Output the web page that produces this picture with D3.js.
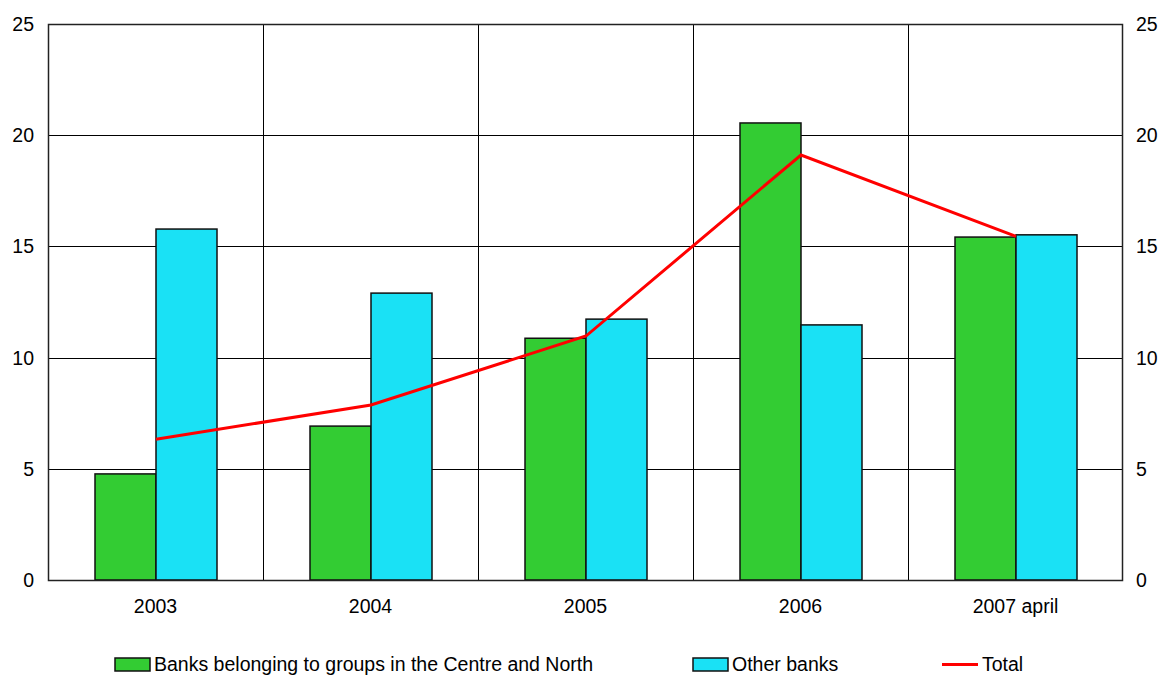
<!DOCTYPE html>
<html><head><meta charset="utf-8">
<script src="https://cdn.jsdelivr.net/npm/d3@7"></script>
<style>body{margin:0;background:#fff}svg{display:block}text{font-family:"Liberation Sans",Arial,sans-serif}</style>
</head><body><svg id="c" width="1164" height="677"></svg>
<script>
const categories = ["2003","2004","2005","2006","2007 april"];
const greenValues = [4.77, 6.92, 10.87, 20.55, 15.42];
const cyanValues = [15.78, 12.9, 11.73, 11.47, 15.52];
const totalValues = [6.33, 7.87, 10.97, 19.11, 15.45];
const yTicks = [0,5,10,15,20,25];
const seriesNames = ["Banks belonging to groups in the Centre and North","Other banks","Total"];

const svg = d3.select("#c");
const L=48, R=1123, T=24, B=580;
const x = d3.scaleBand().domain(categories).range([L,R]).paddingInner(0).paddingOuter(0);
const y = d3.scaleLinear().domain([0,25]).range([B,T]);
const barW = 61;

// grid
svg.append("g").selectAll("line.h").data(yTicks).join("line")
  .attr("x1",L).attr("x2",R).attr("y1",d=>Math.round(y(d))+0.5).attr("y2",d=>Math.round(y(d))+0.5)
  .attr("stroke","#000").attr("stroke-width",1);
svg.append("g").selectAll("line.v").data(categories.slice(1)).join("line")
  .attr("x1",d=>Math.round(x(d))+0.5).attr("x2",d=>Math.round(x(d))+0.5).attr("y1",T).attr("y2",B)
  .attr("stroke","#000").attr("stroke-width",1);

// bars
const cx = d => x(d)+x.bandwidth()/2;
svg.append("g").selectAll("rect").data(categories).join("rect")
  .attr("x",d=>Math.round(cx(d))-barW).attr("width",barW)
  .attr("y",(d,i)=>y(greenValues[i])).attr("height",(d,i)=>B-y(greenValues[i]))
  .attr("fill","#33cc33").attr("stroke","#111").attr("stroke-width",1.5);
svg.append("g").selectAll("rect").data(categories).join("rect")
  .attr("x",d=>Math.round(cx(d))).attr("width",barW)
  .attr("y",(d,i)=>y(cyanValues[i])).attr("height",(d,i)=>B-y(cyanValues[i]))
  .attr("fill","#1ae1f5").attr("stroke","#111").attr("stroke-width",1.5);

// frame
svg.append("rect").attr("x",L+0.5).attr("y",T+0.5).attr("width",R-L-1).attr("height",B-T)
  .attr("fill","none").attr("stroke","#222").attr("stroke-width",1.5);

// line
const line = d3.line().x((d,i)=>Math.round(cx(categories[i]))).y(d=>y(d));
svg.append("path").datum(totalValues).attr("d",line).attr("fill","none")
  .attr("stroke","#ff0000").attr("stroke-width",3);

// axes labels
const fs = 19.5;
svg.append("g").selectAll("text").data(yTicks).join("text")
  .attr("x",34).attr("y",d=>y(d)+7).attr("text-anchor","end").attr("font-size",fs).text(d=>d);
svg.append("g").selectAll("text").data(yTicks).join("text")
  .attr("x",1136).attr("y",d=>y(d)+7).attr("text-anchor","start").attr("font-size",fs).text(d=>d);
svg.append("g").selectAll("text").data(categories).join("text")
  .attr("x",d=>cx(d)).attr("y",613).attr("text-anchor","middle").attr("font-size",fs).text(d=>d);

// legend
const lg = svg.append("g");
lg.append("rect").attr("x",115).attr("y",658).attr("width",35).attr("height",13).attr("fill","#33cc33").attr("stroke","#111").attr("stroke-width",1.5);
lg.append("text").attr("x",154).attr("y",671).attr("font-size",fs).text(seriesNames[0]);
lg.append("rect").attr("x",693).attr("y",658).attr("width",35).attr("height",13).attr("fill","#1ae1f5").attr("stroke","#111").attr("stroke-width",1.5);
lg.append("text").attr("x",732).attr("y",671).attr("font-size",fs).text(seriesNames[1]);
lg.append("line").attr("x1",942).attr("x2",978).attr("y1",664.5).attr("y2",664.5).attr("stroke","#ff0000").attr("stroke-width",3);
lg.append("text").attr("x",982).attr("y",671).attr("font-size",fs).text(seriesNames[2]);
</script></body></html>
